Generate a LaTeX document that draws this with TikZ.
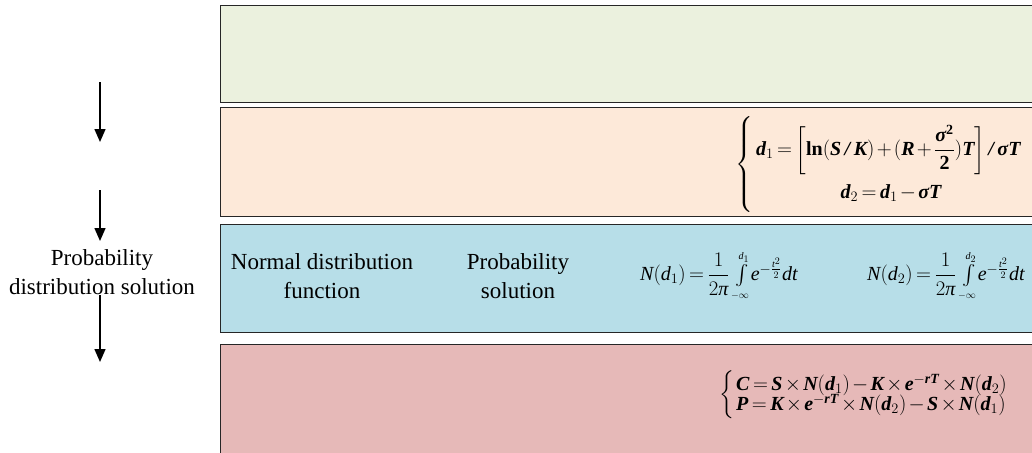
\documentclass[tikz,border=0pt]{standalone}
\usepackage{amsmath,amssymb}
\usepackage{fontspec}
\setmainfont{Liberation Serif}
\usetikzlibrary{arrows.meta,positioning}
\definecolor{Gc}{HTML}{EBF1DE}
\definecolor{Oc}{HTML}{FDE9D9}
\definecolor{Bc}{HTML}{B7DEE8}
\definecolor{Rc}{HTML}{E6B9B8}
\definecolor{edge}{HTML}{262626}
\tikzset{
  band/.style={rectangle, draw=edge, line width=1.3pt, anchor=north west, minimum width=830pt, inner sep=0pt},
  lbl/.style={align=center, inner sep=0pt, font=\fontsize{23}{29}\selectfont},
  eq/.style={inner sep=0pt, font=\fontsize{20}{24}\selectfont},
  flow/.style={-{Triangle[length=13pt,width=11pt]}, line width=1.4pt},
}
\newcommand{\bracesz}[1]{$\left\{\vrule height #1 depth #1 width 0pt\right.$}
\newcommand{\bv}[1]{\text{\bfseries\itshape #1}}
\newcommand{\bn}[1]{\text{\bfseries #1}}
\newcommand{\vi}[1]{\text{\itshape #1}}
\newcommand{\tightsp}{\thickmuskip=3mu\relax\medmuskip=2mu\relax}
\newcommand{\ncdf}[1]{$\tightsp\vi{N}(\vi{d}_{#1})=\dfrac{1}{2\vi{π}}\int\limits_{\scriptscriptstyle-\infty}^{\scriptscriptstyle\vi{d}_{#1}}\!\vi{e}^{-\frac{\vi{t}^2}{2}}\vi{dt}$}

\begin{document}
\begin{tikzpicture}[x=1pt, y=-1pt]
  \clip (0,0) rectangle (1032,452);
  % stacked bands
  \node[band, fill=Gc, minimum height=97pt] (b1) at (220,5) {};
  \node[band, fill=Oc, minimum height=109pt] (b2) at (220,107) {};
  \node[band, fill=Bc, minimum height=108pt] (b3) at (220,224) {};
  \node[band, fill=Rc, minimum height=125pt] (b4) at (220,344) {};
  % left column
  \node[lbl] (pds) at (102,272) {Probability\\distribution solution};
  \coordinate (a1s) at (100,82);  \coordinate (a1e) at (100,142);
  \coordinate (a2s) at (100,190); \coordinate (a2e) at (100,241);
  \coordinate (a3s) at (100,295); \coordinate (a3e) at (100,362);
  \draw[flow] (a1s) -- (a1e);
  \draw[flow] (a2s) -- (a2e);
  \draw[flow] (a3s) -- (a3e);
  % band 2
  \node[eq, anchor=east] (br2) at (755,164) {\bracesz{42pt}};
  \node[eq, anchor=west] (d1) at (756,150) {$\tightsp\bv{d}_{1}=\biggl[\bn{ln}(\bv{S}\;\bv{/}\;\bv{K})+(\bv{R}+\dfrac{\bv{σ}^{\bn{2}}}{\bn{2}})\bv{T}\biggr]\;\bv{/}\;\bv{σT}$};
  \node[eq] (d2) at (891,193) {$\tightsp\bv{d}_{2}=\bv{d}_{1}-\bv{σT}$};
  % band 3
  \node[lbl] (ndf) at (322,276) {Normal distribution\\function};
  \node[lbl] (ps) at (518,276) {Probability\\solution};
  \node[eq, anchor=west] (n1) at (640,276) {\ncdf{1}};
  \node[eq, anchor=west] (n2) at (867,276) {\ncdf{2}};
  % band 4
  \node[eq, anchor=east] (br4) at (736,395) {\bracesz{19pt}};
  \node[eq, anchor=west] (cc) at (736,385) {$\tightsp\bv{C}=\bv{S}\times\bv{N}(\bv{d}_{1})-\bv{K}\times\bv{e}^{-\bv{rT}}\times\bv{N}(\bv{d}_{2})$};
  \node[eq, anchor=west] (pp) at (736,405) {$\tightsp\bv{P}=\bv{K}\times\bv{e}^{-\bv{rT}}\times\bv{N}(\bv{d}_{2})-\bv{S}\times\bv{N}(\bv{d}_{1})$};
\end{tikzpicture}
\end{document}
